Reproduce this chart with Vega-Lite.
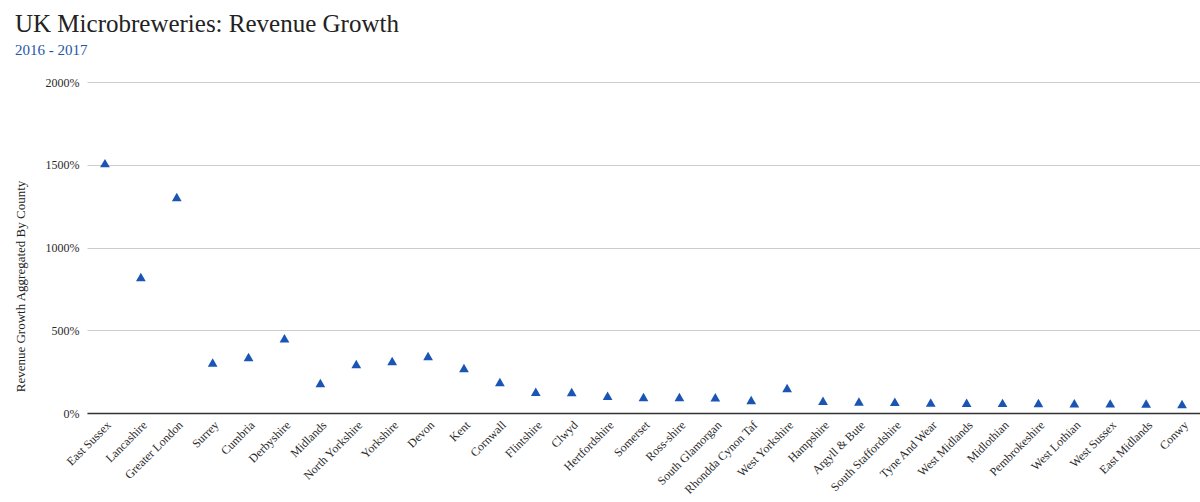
{
  "$schema": "https://vega.github.io/schema/vega-lite/v6.json",
  "width": 1113,
  "height": 331,
  "autosize": {"type": "none"},
  "padding": {"left": 87, "top": 82, "right": 0, "bottom": 89},
  "background": "white",
  "title": {
    "text": "UK Microbreweries: Revenue Growth",
    "subtitle": "2016 - 2017",
    "anchor": "start",
    "frame": "group",
    "dx": -72,
    "offset": 18,
    "font": "Liberation Serif",
    "fontSize": 25,
    "fontWeight": "normal",
    "color": "#222222",
    "subtitleFont": "Liberation Serif",
    "subtitleFontSize": 15,
    "subtitleColor": "#1f56a8",
    "subtitlePadding": 6
  },
  "data": {
    "values": [
      {"county": "East Sussex", "growth": 1510},
      {"county": "Lancashire", "growth": 822},
      {"county": "Greater London", "growth": 1305},
      {"county": "Surrey", "growth": 305},
      {"county": "Cumbria", "growth": 338},
      {"county": "Derbyshire", "growth": 452},
      {"county": "Midlands", "growth": 181},
      {"county": "North Yorkshire", "growth": 296},
      {"county": "Yorkshire", "growth": 314},
      {"county": "Devon", "growth": 344},
      {"county": "Kent", "growth": 272},
      {"county": "Cornwall", "growth": 187},
      {"county": "Flintshire", "growth": 128},
      {"county": "Clwyd", "growth": 127},
      {"county": "Hertfordshire", "growth": 104},
      {"county": "Somerset", "growth": 97},
      {"county": "Ross-shire", "growth": 97},
      {"county": "South Glamorgan", "growth": 95},
      {"county": "Rhondda Cynon Taf", "growth": 79},
      {"county": "West Yorkshire", "growth": 151},
      {"county": "Hampshire", "growth": 74},
      {"county": "Argyll & Bute", "growth": 70},
      {"county": "South Staffordshire", "growth": 68},
      {"county": "Tyne And Wear", "growth": 64},
      {"county": "West Midlands", "growth": 62},
      {"county": "Midlothian", "growth": 61},
      {"county": "Pembrokeshire", "growth": 60},
      {"county": "West Lothian", "growth": 59},
      {"county": "West Sussex", "growth": 58},
      {"county": "East Midlands", "growth": 57},
      {"county": "Conwy", "growth": 54}
    ]
  },
  "mark": {"type": "point", "shape": "triangle-up", "filled": true, "size": 95, "color": "#1a55b5", "opacity": 1},
  "encoding": {
    "x": {
      "field": "county",
      "type": "nominal",
      "sort": null,
      "title": null,
      "scale": {"type": "point", "padding": 0.5},
      "axis": {
        "labelAngle": -45,
        "labelAlign": "right",
        "labelBaseline": "top",
        "labelFont": "Liberation Serif",
        "labelFontSize": 12,
        "labelColor": "#2a2a2a",
        "ticks": false,
        "domainColor": "#333333",
        "domainWidth": 1.5,
        "labelPadding": 6,
        "grid": false
      }
    },
    "y": {
      "field": "growth",
      "type": "quantitative",
      "title": "Revenue Growth Aggregated By County",
      "scale": {"domain": [0, 2000], "nice": false},
      "axis": {
        "values": [0, 500, 1000, 1500, 2000],
        "labelExpr": "datum.value + '%'",
        "labelFont": "Liberation Serif",
        "labelFontSize": 12,
        "labelColor": "#2a2a2a",
        "titleFont": "Liberation Serif",
        "titleFontSize": 13,
        "titleFontWeight": "normal",
        "titleColor": "#222222",
        "titlePadding": 18,
        "titleY": 204,
        "domain": false,
        "ticks": false,
        "labelPadding": 8,
        "gridColor": "#cccccc",
        "gridWidth": 1
      }
    }
  },
  "config": {"view": {"stroke": null}}
}
